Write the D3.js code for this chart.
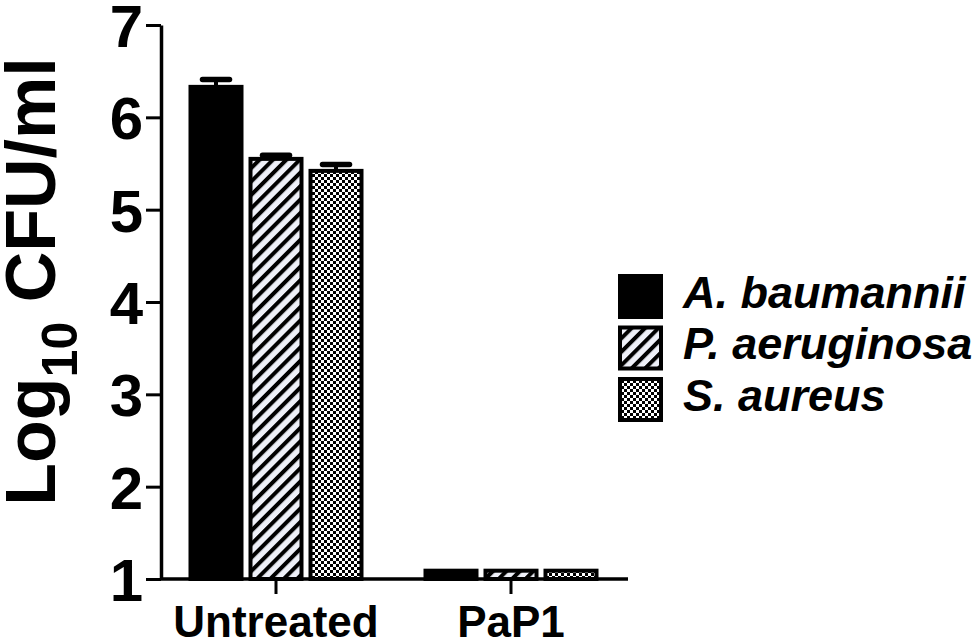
<!DOCTYPE html>
<html>
<head>
<meta charset="utf-8">
<script src="https://cdn.jsdelivr.net/npm/d3@7"></script>
<style>
  html, body { margin: 0; padding: 0; background: #fff; }
  svg { display: block; font-family: "Liberation Sans", Arial, sans-serif; }
</style>
</head>
<body>
<svg id="chart" width="975" height="642"></svg>
<script>
// ---- data ----
const groups = ["Untreated", "PaP1"];
const species = ["A. baumannii", "P. aeruginosa", "S. aureus"];
const untreatedValues = [6.33, 5.55, 5.42];
const untreatedErrors = [0.08, 0.04, 0.07];
const pap1Values = [1.09, 1.09, 1.09];
const pap1Errors = [0, 0, 0];
const yTicks = [1, 2, 3, 4, 5, 6, 7];

const valuesByGroup = { "Untreated": untreatedValues, "PaP1": pap1Values };
const errorsByGroup = { "Untreated": untreatedErrors, "PaP1": pap1Errors };
const rows = [];
groups.forEach(g => species.forEach((s, i) => rows.push({ group: g, species: s, value: valuesByGroup[g][i], err: errorsByGroup[g][i] })));

// ---- layout ----
const svg = d3.select("#chart");
const axisX = 161, plotTop = 25, plotBottom = 579, axisRight = 628;

const y = d3.scaleLinear().domain([1, 7]).range([plotBottom, plotTop]);
const x0 = d3.scaleBand().domain(groups).range([158.5, 628.5]).padding(0);
const x1 = d3.scaleBand().domain(species)
  .range([x0.bandwidth() / 2 - 90, x0.bandwidth() / 2 + 90])
  .paddingInner(0.15).paddingOuter(0.075);

// ---- patterns ----
const defs = svg.append("defs");
const hatch = defs.append("pattern").attr("id", "hatch")
  .attr("patternUnits", "userSpaceOnUse").attr("width", 9.5).attr("height", 9.5)
  .attr("patternTransform", "rotate(45)");
hatch.append("rect").attr("width", 9.5).attr("height", 9.5).attr("fill", "#eef0f8");
hatch.append("rect").attr("x", 0).attr("width", 4).attr("height", 9.5).attr("fill", "#000");

const checker = defs.append("pattern").attr("id", "checker")
  .attr("patternUnits", "userSpaceOnUse").attr("width", 6).attr("height", 6);
checker.append("rect").attr("width", 6).attr("height", 6).attr("fill", "#fff");
checker.append("rect").attr("x", 0).attr("y", 0).attr("width", 3).attr("height", 3).attr("fill", "#000");
checker.append("rect").attr("x", 3).attr("y", 3).attr("width", 3).attr("height", 3).attr("fill", "#000");

const fills = d3.scaleOrdinal().domain(species).range(["#000", "url(#hatch)", "url(#checker)"]);

// ---- bars ----
const gBars = svg.append("g");
gBars.selectAll("rect.bar").data(rows).join("rect")
  .attr("class", "bar")
  .attr("x", d => x0(d.group) + x1(d.species))
  .attr("y", d => y(d.value))
  .attr("width", x1.bandwidth())
  .attr("height", d => y(1) - y(d.value))
  .attr("fill", d => fills(d.species))
  .attr("stroke", "#000")
  .attr("stroke-width", 4);

// ---- error bars ----
const errRows = rows.filter(d => d.err > 0);
const gErr = svg.append("g").attr("stroke", "#000");
gErr.selectAll("line.stem").data(errRows).join("line")
  .attr("x1", d => x0(d.group) + x1(d.species) + x1.bandwidth() / 2)
  .attr("x2", d => x0(d.group) + x1(d.species) + x1.bandwidth() / 2)
  .attr("y1", d => y(d.value))
  .attr("y2", d => y(d.value + d.err))
  .attr("stroke-width", 4);
gErr.selectAll("line.cap").data(errRows).join("line")
  .attr("x1", d => x0(d.group) + x1(d.species) + x1.bandwidth() / 2 - 13.5)
  .attr("x2", d => x0(d.group) + x1(d.species) + x1.bandwidth() / 2 + 13.5)
  .attr("y1", d => y(d.value + d.err))
  .attr("y2", d => y(d.value + d.err))
  .attr("stroke-width", 5.5)
  .attr("stroke-linecap", "round");

// ---- y axis ----
const yAxis = svg.append("g").attr("transform", `translate(${axisX},0)`)
  .call(d3.axisLeft(y).tickValues(yTicks).tickFormat(d3.format("d")).tickSize(15).tickSizeOuter(0).tickPadding(3));
yAxis.select(".domain").attr("stroke-width", 3.5);
yAxis.selectAll(".tick line").attr("stroke-width", 3);
yAxis.selectAll(".tick text")
  .attr("font-size", 60).attr("font-weight", "bold").attr("fill", "#000")
  .attr("font-family", "'Liberation Sans', Arial, sans-serif")
  .attr("dy", "0.36em");

// ---- x axis ----
const xAxis = svg.append("g").attr("transform", `translate(0,${plotBottom})`)
  .call(d3.axisBottom(x0).tickSize(15).tickSizeOuter(0));
xAxis.select(".domain").remove();
xAxis.append("line").attr("x1", axisX).attr("x2", axisRight).attr("y1", 0).attr("y2", 0)
  .attr("stroke", "#000").attr("stroke-width", 3.5);
xAxis.selectAll(".tick line").attr("stroke-width", 3);
xAxis.selectAll(".tick text")
  .attr("font-size", 44).attr("font-weight", "bold").attr("fill", "#000")
  .attr("font-family", "'Liberation Sans', Arial, sans-serif")
  .attr("y", 58).attr("dy", null);

// ---- y axis title ----
const title = svg.append("text")
  .attr("transform", "translate(55,281.5) rotate(-90)")
  .attr("text-anchor", "middle")
  .attr("font-weight", "bold")
  .attr("font-size", 70)
  .attr("fill", "#000");
title.append("tspan").text("Log");
title.append("tspan").attr("font-size", 50).attr("dy", 22).text("10");
title.append("tspan").attr("dy", -22).text(" CFU/ml");

// ---- legend ----
const legend = svg.append("g").attr("transform", "translate(618,274)");
const li = legend.selectAll("g").data(species).join("g")
  .attr("transform", (d, i) => `translate(0,${i * 51.5})`);
li.append("rect")
  .attr("x", 2).attr("y", 2).attr("width", 41).attr("height", 41)
  .attr("fill", d => fills(d)).attr("stroke", "#000").attr("stroke-width", 4);
li.append("text")
  .attr("x", 65).attr("y", 33.5)
  .attr("font-size", 45).attr("font-weight", "bold").attr("font-style", "italic")
  .attr("fill", "#000")
  .text(d => d);
</script>
</body>
</html>
